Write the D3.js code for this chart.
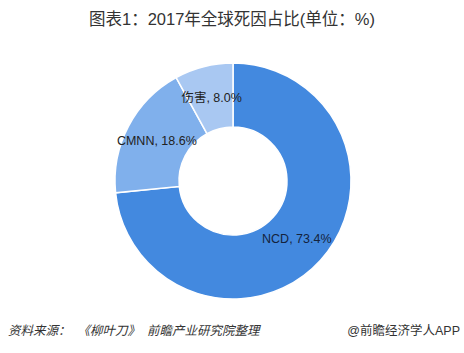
<!DOCTYPE html>
<html>
<head>
<meta charset="utf-8">
<script src="https://cdn.jsdelivr.net/npm/d3@7"></script>
<style>
  body { margin: 0; background: #fff; }
  text { font-family: "Liberation Sans", "Noto Sans CJK SC", sans-serif; }
</style>
</head>
<body>
<script>
const categories = ["NCD", "CMNN", "伤害"];
const values = [73.4, 18.6, 8.0];
const colors = ["#4389df", "#80b0ec", "#a9c8f2"];

let w = 464,
    h = 353;

let svg = d3.select("body").append("svg")
    .attr("width", w)
    .attr("height", h);

svg.append("text")
    .attr("x", 232)
    .attr("y", 25)
    .attr("text-anchor", "middle")
    .attr("font-size", 16.5)
    .attr("fill", "#333")
    .text("图表1：2017年全球死因占比(单位：%)");

let cx = 233, cy = 181,
    outer = 118, inner = 54;

let pie = d3.pie().sort(null).value(d => d.v);
let arc = d3.arc().innerRadius(inner).outerRadius(outer);

let data = categories.map((c, i) => ({ name: c, v: values[i], color: colors[i] }));

let g = svg.append("g").attr("transform", `translate(${cx},${cy})`);

let slices = g.selectAll("g.slice")
    .data(pie(data))
    .enter().append("g")
    .attr("class", "slice");

slices.append("path")
    .attr("d", arc)
    .attr("fill", d => d.data.color)
    .attr("stroke", "#fff")
    .attr("stroke-width", 1.5);

slices.append("text")
    .attr("transform", d => `translate(${arc.centroid(d)})`)
    .attr("text-anchor", "middle")
    .attr("dy", "0.35em")
    .attr("font-size", 12.5)
    .attr("fill", d => d.index === 0 ? "#14233d" : "#222")
    .text(d => d.data.name + ", " + d.data.v.toFixed(1) + "%");

svg.append("text")
    .attr("x", 8)
    .attr("y", 335)
    .attr("font-size", 12.5)
    .attr("font-style", "italic")
    .attr("fill", "#333")
    .attr("xml:space", "preserve")
    .text("资料来源：  《柳叶刀》  前瞻产业研究院整理");

svg.append("text")
    .attr("x", 460)
    .attr("y", 335)
    .attr("text-anchor", "end")
    .attr("font-size", 12.5)
    .attr("fill", "#333")
    .text("@前瞻经济学人APP");
</script>
</body>
</html>
